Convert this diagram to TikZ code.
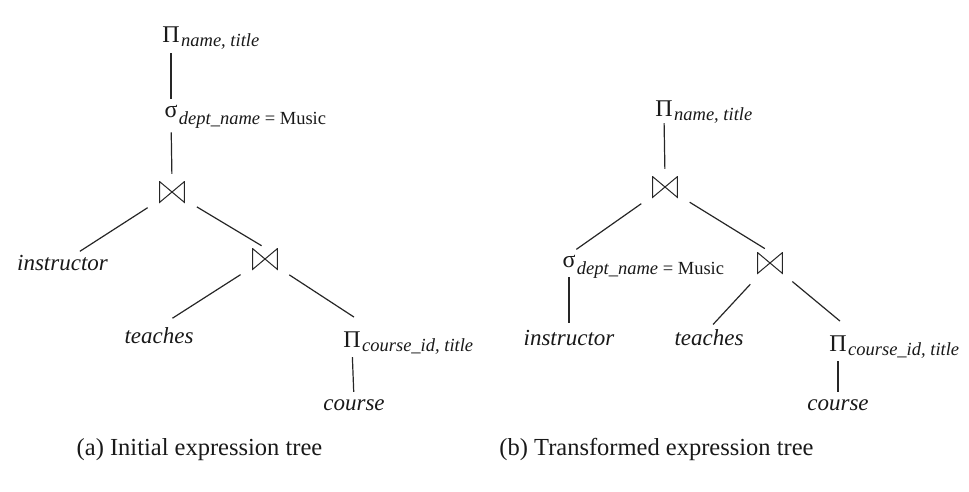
\documentclass[tikz,border=0pt]{standalone}
\usepackage{fontspec}
\setmainfont{Liberation Serif}
\usetikzlibrary{calc}

\newcommand{\opsub}[2][-4pt]{\rlap{\hspace{1.5pt}\raisebox{#1}[0pt][0pt]{\fontsize{18.5}{18.5}\selectfont #2}}}

\tikzset{
  op/.style={inner sep=0pt, anchor=base, text=black!90, font=\fontsize{24}{24}\selectfont},
  joinnode/.style={inner sep=0pt, minimum width=26pt, minimum height=22pt,
    path picture={\draw[black!85, line width=1pt]
      ([xshift=0.6pt,yshift=0.6pt]path picture bounding box.south west) --
      ([xshift=0.6pt,yshift=-0.6pt]path picture bounding box.north west) --
      ([xshift=-0.6pt,yshift=0.6pt]path picture bounding box.south east) --
      ([xshift=-0.6pt,yshift=-0.6pt]path picture bounding box.north east) -- cycle;}},
  rel/.style={inner sep=0pt, anchor=base, text=black!90, font=\fontsize{23}{23}\selectfont\itshape},
  capt/.style={inner sep=0pt, anchor=base, text=black!90, font=\fontsize{24.5}{24.5}\selectfont},
  conn/.style={draw=black!85, line width=1.2pt},
  vconn/.style={conn, shorten <=10pt, shorten >=7pt},
  dconn/.style={conn, shorten <=29pt, shorten >=6pt}
}

\begin{document}
\begin{tikzpicture}[x=1pt,y=-1pt]
  \useasboundingbox (0,0) rectangle (969,492);
  % (a)
  \node[op] (pA) at (171,43) {Π\opsub{\itshape name, title}};
  \node[op] (sA) at (171,118) {σ\opsub[-7pt]{\itshape dept\_name \upshape = Music}};
  \node[joinnode] (jA1) at (172,192) {};
  \node[rel] (inst) at (62.5,270) {instructor};
  \node[joinnode] (jA2) at (265,259) {};
  \node[rel] (teach) at (159,343) {teaches};
  \node[op] (pA2) at (352,347) {Π\opsub{\itshape course\_id, title}};
  \node[rel] (course) at (354,410) {course};
  \draw[vconn] (pA.south) -- (sA.north);
  \draw[vconn, shorten <=14pt] (sA.south) -- (jA1.north);
  \draw[dconn] (jA1.center) -- (inst);
  \draw[dconn, shorten >=4pt] (jA1.center) -- (jA2.north);
  \draw[dconn, shorten >=16pt] (jA2.center) -- (teach.north);
  \draw[dconn, shorten >=0pt] (jA2.center) -- ($(pA2.north)+(2,-14)$);
  \draw[vconn] (pA2.south) -- (course.north);
  % (b)
  \node[op] (pB) at (664,117) {Π\opsub{\itshape name, title}};
  \node[joinnode] (jB1) at (665,187) {};
  \node[op] (sB) at (569,267) {σ\opsub[-7pt]{\itshape dept\_name \upshape = Music}};
  \node[joinnode] (jB2) at (770,263) {};
  \node[rel] (inst2) at (569,345) {instructor};
  \node[rel] (teach2) at (709,345) {teaches};
  \node[op] (pB2) at (838,351) {Π\opsub{\itshape course\_id, title}};
  \node[rel] (course2) at (838,410) {course};
  \draw[vconn, shorten <=6pt] (pB.south) -- (jB1.north);
  \draw[dconn, shorten >=9pt] (jB1.center) -- (sB.north);
  \draw[dconn] (jB1.center) -- (jB2.north);
  \draw[vconn] (sB.south) -- (inst2.north);
  \draw[dconn] (jB2.center) -- (teach2.north);
  \draw[dconn, shorten >=0pt] (jB2.center) -- ($(pB2.north)+(2,-14)$);
  \draw[vconn] (pB2.south) -- (course2.north);
  % captions
  \node[capt] (captA) at (199.5,455) {(a) Initial expression tree};
  \node[capt] (captB) at (656.5,455) {(b) Transformed expression tree};
\end{tikzpicture}
\end{document}
